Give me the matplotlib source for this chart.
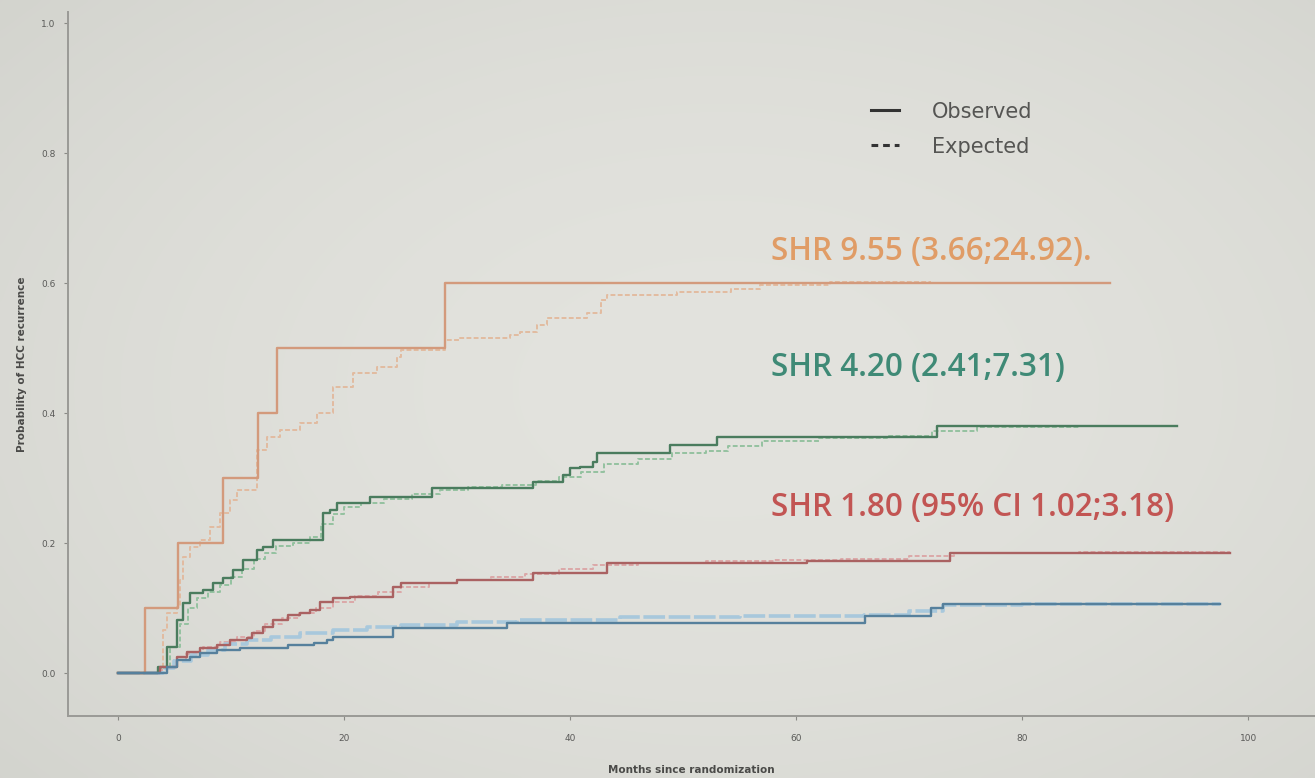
import numpy as np
import matplotlib
matplotlib.use("Agg")
import matplotlib.pyplot as plt
from matplotlib.lines import Line2D

# ---- cumulative incidence of HCC recurrence, by group (months, probability) ----
orange_obs_t = [0, 2.4, 5.3, 9.3, 12.4, 14.1, 28.9, 87.8]
orange_obs_p = [0, 0.10, 0.20, 0.30, 0.40, 0.50, 0.60, 0.60]
orange_exp_t = [0, 3.5, 4.0, 4.3, 5.2, 5.5, 5.75, 6.4, 7.3, 8.1, 9.0, 9.9, 10.5, 12.3, 13.2,
                14.3, 16.1, 17.6, 19.0, 20.8, 22.9, 24.7, 25.0, 28.9, 30.3, 34.7, 35.6, 37.1,
                38.0, 41.5, 42.7, 43.3, 49.5, 54.2, 56.8, 63.0, 71.9]
orange_exp_p = [0, 0.009, 0.066, 0.092, 0.102, 0.143, 0.178, 0.194, 0.205, 0.225, 0.246, 0.266,
                0.282, 0.343, 0.363, 0.374, 0.385, 0.40, 0.44, 0.462, 0.471, 0.486, 0.497, 0.512,
                0.515, 0.52, 0.525, 0.535, 0.546, 0.554, 0.574, 0.582, 0.586, 0.591, 0.597, 0.602,
                0.602]

green_obs_t = [0, 3.5, 4.3, 5.2, 5.75, 6.4, 7.5, 8.4, 9.3, 10.2, 11.1, 12.3, 12.8, 13.7, 18.1,
               18.8, 19.4, 22.3, 27.8, 36.7, 39.4, 40.0, 40.9, 42.0, 42.4, 48.8, 53.0, 72.5, 93.7]
green_obs_p = [0, 0.009, 0.040, 0.082, 0.108, 0.123, 0.128, 0.138, 0.146, 0.158, 0.174, 0.189,
               0.194, 0.204, 0.246, 0.251, 0.262, 0.271, 0.285, 0.294, 0.305, 0.315, 0.317, 0.324,
               0.338, 0.351, 0.363, 0.38, 0.38]
green_exp_t = [0, 3.8, 4.6, 5.5, 6.2, 7.0, 8.0, 9.0, 10.0, 11.0, 12.0, 13.0, 14.0, 15.5, 17.0,
               18.0, 19.0, 20.0, 21.5, 23.5, 26.0, 28.5, 31.0, 34.0, 37.0, 39.0, 41.0, 43.0, 46.0,
               49.0, 52.0, 54.0, 57.0, 62.0, 68.0, 72.0, 76.0, 85.0, 93.7]
green_exp_p = [0, 0.01, 0.04, 0.075, 0.10, 0.115, 0.125, 0.135, 0.148, 0.16, 0.175, 0.185, 0.195,
               0.20, 0.21, 0.23, 0.245, 0.255, 0.262, 0.268, 0.275, 0.282, 0.286, 0.29, 0.296,
               0.302, 0.31, 0.322, 0.33, 0.338, 0.342, 0.35, 0.357, 0.362, 0.365, 0.372, 0.378,
               0.38, 0.38]

red_obs_t = [0, 3.7, 5.2, 6.1, 7.3, 8.8, 9.9, 11.4, 11.9, 12.8, 13.7, 15.0, 16.1, 17.0, 17.9,
             19.0, 20.5, 24.3, 25.0, 30.0, 36.7, 43.3, 61.0, 73.6, 98.4]
red_obs_p = [0, 0.009, 0.025, 0.032, 0.038, 0.043, 0.051, 0.054, 0.062, 0.071, 0.082, 0.089,
             0.092, 0.097, 0.109, 0.115, 0.117, 0.132, 0.138, 0.143, 0.154, 0.169, 0.172, 0.185,
             0.185]
red_exp_t = [0, 3.9, 5.0, 6.0, 7.5, 9.0, 10.5, 12.0, 13.0, 14.5, 16.0, 17.5, 19.0, 21.0, 23.0,
             25.0, 27.5, 30.0, 33.0, 36.0, 39.0, 42.0, 46.0, 52.0, 58.0, 64.0, 70.0, 74.0, 85.0,
             98.4]
red_exp_p = [0, 0.008, 0.02, 0.03, 0.04, 0.048, 0.055, 0.065, 0.075, 0.085, 0.092, 0.10, 0.11,
             0.118, 0.125, 0.132, 0.138, 0.143, 0.148, 0.153, 0.16, 0.166, 0.17, 0.172, 0.174,
             0.176, 0.18, 0.185, 0.186, 0.186]

blue_obs_t = [0, 4.3, 5.2, 6.4, 7.3, 8.8, 10.8, 15.0, 17.3, 18.5, 19.0, 24.3, 34.4, 66.1, 71.9,
              73.0, 97.5]
blue_obs_p = [0, 0.009, 0.02, 0.025, 0.031, 0.035, 0.038, 0.043, 0.046, 0.051, 0.055, 0.069,
              0.077, 0.088, 0.10, 0.107, 0.107]
blue_exp_t = [0, 4.0, 5.0, 6.5, 8.0, 9.5, 11.4, 13.5, 16.1, 19.0, 22.0, 25.0, 30.0, 35.3, 44.4,
              55.0, 66.0, 70.0, 73.0, 80.0, 97.5]
blue_exp_p = [0, 0.008, 0.018, 0.028, 0.036, 0.044, 0.051, 0.056, 0.062, 0.067, 0.071, 0.074,
              0.078, 0.082, 0.086, 0.088, 0.09, 0.095, 0.104, 0.107, 0.107]

shr_labels = ["SHR 9.55 (3.66;24.92).", "SHR 4.20 (2.41;7.31)", "SHR 1.80 (95% CI 1.02;3.18)"]
x_ticks = [0, 20, 40, 60, 80, 100]
y_ticks = [0.0, 0.2, 0.4, 0.6, 0.8, 1.0]

fig = plt.figure(figsize=(13.15, 7.78), dpi=100)

# soft slide background, lighter in the middle
bg = fig.add_axes([0, 0, 1, 1], zorder=-1)
yy, xx = np.mgrid[0:1:200j, 0:1:340j]
r = np.sqrt(((xx - 0.55) / 0.8) ** 2 + ((yy - 0.5) / 0.85) ** 2)
centre = np.array([227, 227, 222]) / 255
edge = np.array([208, 209, 203]) / 255
w = np.clip(r, 0, 1)[..., None] ** 1.8
bg.imshow(centre * (1 - w) + edge * w, aspect="auto", extent=[0, 1, 0, 1],
          interpolation="bicubic")
bg.axis("off")

ax = fig.add_axes([68 / 1315, 1 - 716 / 778, 1 - 68 / 1315, (716 - 12) / 778])
ax.set_facecolor("none")

groups = [
    (orange_obs_t, orange_obs_p, orange_exp_t, orange_exp_p, "#d39a7c", "#e2bba0", 1.4, (0, (2.5, 1.2))),
    (green_obs_t, green_obs_p, green_exp_t, green_exp_p, "#4a7c5e", "#94c2a0", 1.4, (0, (2.5, 1.2))),
    (red_obs_t, red_obs_p, red_exp_t, red_exp_p, "#aa6262", "#dba8a8", 1.4, (0, (2.5, 1.2))),
    (blue_obs_t, blue_obs_p, blue_exp_t, blue_exp_p, "#56809c", "#a8c8dc", 2.6, (0, (6, 1))),
]
for ot, op, et, ep, c_obs, c_exp, lw_exp, dash in groups:
    ax.plot(et, ep, color=c_exp, lw=lw_exp, ls=dash, drawstyle="steps-post", zorder=2)
    ax.plot(ot, op, color=c_obs, lw=1.7, drawstyle="steps-post", zorder=3)

ax.set_xlim(-4.42, 105.9)
ax.set_ylim(-0.066, 1.017)
ax.set_xticks(x_ticks)
ax.set_yticks(y_ticks)
ax.set_yticklabels([f"{v:.1f}" for v in y_ticks])
ax.tick_params(colors="#8a8a86", labelcolor="#5a5a58", labelsize=6.5, length=3, width=0.8)
ax.tick_params(axis="x", pad=10)
ax.tick_params(axis="y", pad=6)
for s in ["top", "right"]:
    ax.spines[s].set_visible(False)
for s in ["left", "bottom"]:
    ax.spines[s].set_color("#9a9a96")
    ax.spines[s].set_linewidth(1.4)

ax.set_xlabel("Months since randomization", fontsize=7.5, fontweight="bold", color="#4a4a48",
              labelpad=16)
ax.set_ylabel("Probability of HCC recurrence", fontsize=7.5, fontweight="bold", color="#4a4a48",
              labelpad=10)

# group annotations
txt_colors = ["#e09c66", "#3f8a76", "#c25553"]
txt_y = [0.648, 0.47, 0.254]
for lab, c, yv in zip(shr_labels, txt_colors, txt_y):
    ax.text(57.8, yv, lab, color=c, fontsize=22.7, family="Open Sans", fontweight="semibold",
            va="center", ha="left")

handles = [Line2D([], [], color="#333333", lw=2.2),
           Line2D([], [], color="#333333", lw=2.2, ls=(0, (2.2, 1.6)))]
leg = fig.legend(handles, ["Observed", "Expected"], loc="upper left",
                 bbox_to_anchor=(852 / 1315, 1 - 83 / 778), frameon=False,
                 handlelength=1.35, handletextpad=1.6, labelspacing=0.72,
                 prop={"family": "Liberation Sans Narrow", "size": 15})
for t in leg.get_texts():
    t.set_color("#555553")

fig.savefig("out.png", dpi=100)
